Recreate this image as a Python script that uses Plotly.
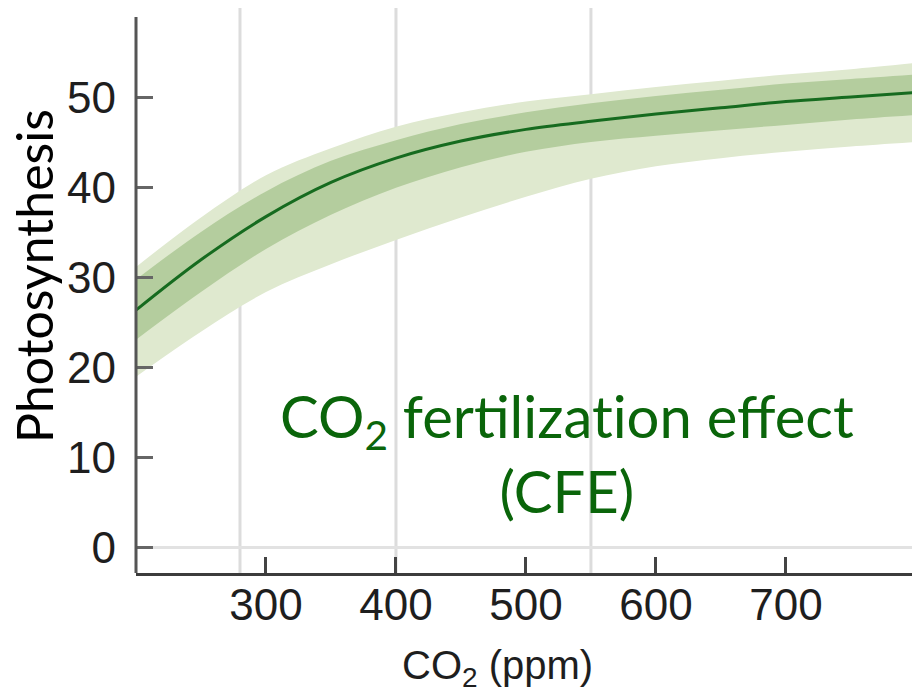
import plotly.graph_objects as go

# CO2 concentration (ppm) and modelled photosynthesis response
co2 = [200, 250, 300, 350, 400, 450, 500, 550, 600, 650, 700, 750, 800]
photo_mean = [26.4, 32.0, 36.8, 40.6, 43.3, 45.2, 46.5, 47.4, 48.2, 48.9, 49.6, 50.1, 50.6]
inner_hi = [29.8, 35.1, 39.6, 43.0, 45.3, 47.1, 48.4, 49.4, 50.2, 50.9, 51.6, 52.1, 52.6]
inner_lo = [23.1, 28.4, 33.2, 37.0, 40.0, 42.3, 44.0, 45.1, 45.8, 46.4, 47.0, 47.6, 48.1]
outer_hi = [31.2, 36.7, 41.4, 44.4, 46.8, 48.4, 49.6, 50.4, 51.2, 51.9, 52.6, 53.2, 53.9]
outer_lo = [19.0, 24.0, 28.4, 31.5, 34.2, 36.7, 39.0, 41.0, 42.4, 43.3, 44.0, 44.6, 45.1]

# reference CO2 levels marked with vertical lines
ref_levels = [280, 400, 550]

x_ticks = [300, 400, 500, 600, 700]
y_ticks = [0, 10, 20, 30, 40, 50]

LIGHT = "#dfe9cf"
DARK = "#b4cd9e"
LINE = "#166b1f"
TEXT_GREEN = "#0a650a"
HUMANIST = "Lato, 'Open Sans', sans-serif"
ARIAL = "Arial, 'Liberation Sans', sans-serif"
ZWNJ = "\u200c"  # keeps "t" and "i" as separate glyphs

fig = go.Figure()

fig.add_trace(go.Scatter(x=co2, y=outer_lo, mode="lines", line=dict(width=0, shape="spline"),
                         hoverinfo="skip", showlegend=False))
fig.add_trace(go.Scatter(x=co2, y=outer_hi, mode="lines", line=dict(width=0, shape="spline"),
                         fill="tonexty", fillcolor=LIGHT, hoverinfo="skip", showlegend=False))
fig.add_trace(go.Scatter(x=co2, y=inner_lo, mode="lines", line=dict(width=0, shape="spline"),
                         hoverinfo="skip", showlegend=False))
fig.add_trace(go.Scatter(x=co2, y=inner_hi, mode="lines", line=dict(width=0, shape="spline"),
                         fill="tonexty", fillcolor=DARK, hoverinfo="skip", showlegend=False))
fig.add_trace(go.Scatter(x=co2, y=photo_mean, mode="lines",
                         line=dict(color=LINE, width=3, shape="spline"), showlegend=False))

for lvl in ref_levels:
    fig.add_shape(type="line", xref="x", yref="paper", x0=lvl, x1=lvl, y0=0, y1=1,
                  line=dict(color="#dcdcdc", width=3), layer="below")

# left axis line (starts a little below the top of the plot area)
fig.add_shape(type="line", xref="paper", yref="paper", x0=0, x1=0, y0=0, y1=0.984,
              line=dict(color="#555555", width=3))

label = f"CO<sub>2</sub> fertilizat{ZWNJ}ion effect<br>(CFE)"

fig.update_layout(
    width=912, height=697,
    margin=dict(l=136, r=0, t=8, b=124),
    plot_bgcolor="white", paper_bgcolor="white",
    xaxis=dict(range=[200, 797], tickvals=x_ticks, ticks="inside", ticklen=16, tickwidth=3,
               tickcolor="#444444", showgrid=False, zeroline=False,
               showline=True, linecolor="#3c3c3c", linewidth=3,
               tickfont=dict(family=ARIAL, size=44, color="#1e1e1e"),
               ticklabelstandoff=-9),
    yaxis=dict(range=[-2.84, 60.0], tickvals=y_ticks, ticks="inside", ticklen=17, tickwidth=3,
               tickcolor="#666666", showgrid=False, showline=False,
               zeroline=True, zerolinecolor="#e2e2e2", zerolinewidth=3,
               tickfont=dict(family=ARIAL, size=44, color="#1e1e1e"),
               ticklabelstandoff=19),
    annotations=[
        dict(text="Photosynthesis", xref="paper", yref="paper", x=0, y=0.5257,
             xanchor="center", yanchor="middle", xshift=-102, textangle=-90, showarrow=False,
             font=dict(family=HUMANIST, size=50, color="black")),
        dict(text="CO<sub>2</sub> (ppm)", xref="paper", yref="paper", x=(497 - 136) / 776, y=0,
             xanchor="center", yanchor="top", yshift=-68, showarrow=False,
             font=dict(family=ARIAL, size=40, color="#1e1e1e")),
        dict(text=label, xref="x", yref="y",
             x=531.5, y=10.5, xanchor="center", yanchor="middle", showarrow=False,
             font=dict(family=HUMANIST, size=58, color=TEXT_GREEN)),
    ],
)

fig.write_html("out.html")
